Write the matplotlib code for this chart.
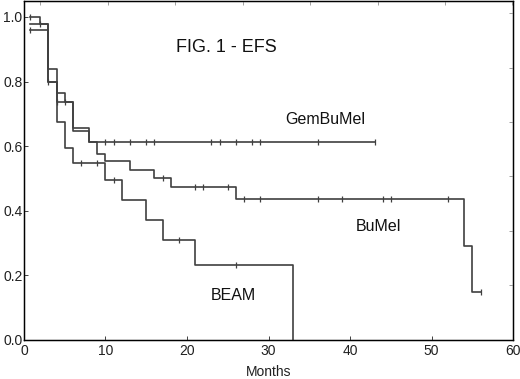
import numpy as np
import matplotlib
matplotlib.use("Agg")
import matplotlib.pyplot as plt

plt.rcParams['font.family'] = ['Liberation Sans', 'DejaVu Sans']

# step curves: event times (months) and survival after each step
gem_t = [0.7, 2, 3, 4, 6, 8]
gem_s = [1.0, 0.977, 0.84, 0.737, 0.656, 0.612]
gem_end = 43
gem_cens = [0.7, 2, 4, 5, 10, 11, 13, 15, 16, 23, 24, 26, 28, 29, 36, 43]

bumel_t = [0.7, 3, 4, 5, 6, 8, 9, 10, 13, 16, 18, 26, 54, 55]
bumel_s = [0.977, 0.80, 0.763, 0.737, 0.646, 0.612, 0.577, 0.553, 0.527,
           0.50, 0.472, 0.435, 0.29, 0.148]
bumel_end = 56
bumel_cens = [3, 17, 21, 22, 25, 27, 29, 36, 39, 44, 45, 52, 56]

beam_t = [0.7, 3, 4, 5, 6, 10, 12, 15, 17, 21, 33]
beam_s = [0.96, 0.80, 0.675, 0.593, 0.549, 0.495, 0.433, 0.37, 0.31, 0.233, 0.0]
beam_end = 33
beam_cens = [0.7, 7, 9, 11, 19, 26]

line_col = '#404040'


def surv_at(t, s, x):
    idx = np.searchsorted(t, x, side='right') - 1
    return np.array(s)[idx]


fig = plt.figure(figsize=(5.2, 3.79), dpi=100)
ax = fig.add_axes([0.046, 0.103, 0.941, 0.895])

for t, s, end, cens in [(gem_t, gem_s, gem_end, gem_cens),
                        (bumel_t, bumel_s, bumel_end, bumel_cens),
                        (beam_t, beam_s, beam_end, beam_cens)]:
    tt = list(t) + [end]
    ss = list(s) + [s[-1]]
    ax.step(tt, ss, where='post', color=line_col, lw=1.2)
    ax.plot(cens, surv_at(t, s, cens), ls='none', marker='|',
            ms=5, mew=0.9, color=line_col)

ax.set_xlim(0, 60)
ax.set_ylim(0, 1.05)
ax.set_xticks(np.arange(0, 61, 10))
ax.set_yticks(np.arange(0, 1.01, 0.2))
ax.set_yticklabels(['0.0', '0.2', '0.4', '0.6', '0.8', '1.0'])
ax.tick_params(direction='in', length=3, labelsize=10, colors='#202020',
               pad=3, width=0.6)
ax.tick_params(axis='y', pad=1)
for sp in ax.spines.values():
    sp.set_color('#404040')
    sp.set_linewidth(1.0)

# extra ticks on top and right, as in the original
axt = ax.twiny()
axt.set_xlim(0, 60)
axt.set_xticks(np.linspace(2.02, 59.9, 8))
axt.tick_params(direction='in', length=3, labeltop=False, color='#909090', width=0.6)
axr = ax.twinx()
axr.set_ylim(0, 1.05)
axr.set_yticks(np.linspace(0.17, 1.011, 6))
axr.tick_params(direction='in', length=3, labelright=False, color='#909090', width=0.6)

ax.set_xlabel('Months', fontsize=10, labelpad=5, color='#202020')

ax.text(24.8, 0.905, 'FIG. 1 - EFS', fontsize=13, ha='center', va='center', color='#111111')
ax.text(37, 0.683, 'GemBuMel', fontsize=11.5, ha='center', va='center', color='#111111')
ax.text(43.5, 0.35, 'BuMel', fontsize=11.5, ha='center', va='center', color='#111111')
ax.text(25.7, 0.139, 'BEAM', fontsize=11.5, ha='center', va='center', color='#111111')

fig.savefig('out.png', dpi=100)
